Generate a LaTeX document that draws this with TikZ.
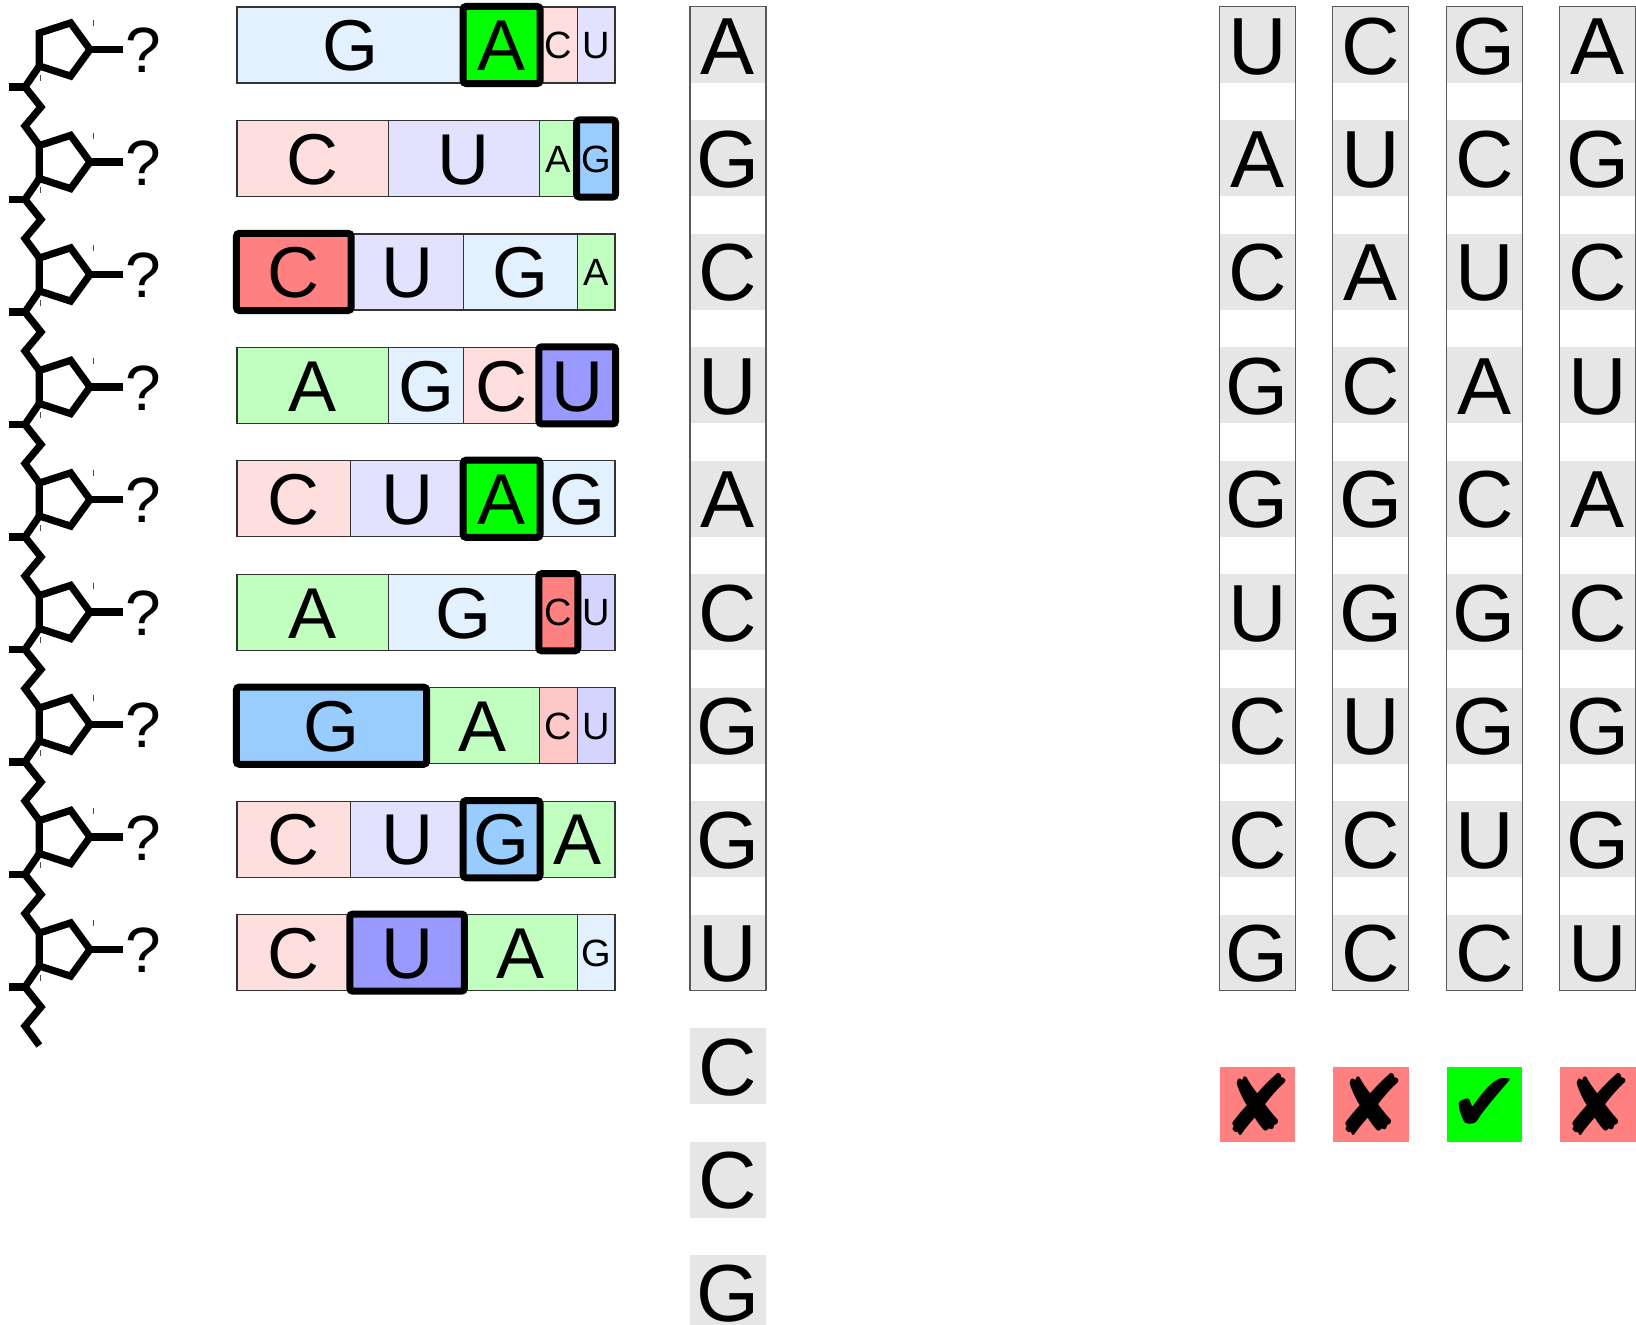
\documentclass[tikz,border=0pt]{standalone}
\usepackage{fontspec}
\setmainfont{Liberation Sans}
\newfontfamily\marksfont{DejaVu Sans}

% base colours, pale (p) and picked (h)
\definecolor{Ap}{HTML}{C0FFC0}\definecolor{Ah}{HTML}{00FF00}
\definecolor{Cp}{HTML}{FFDEDE}\definecolor{Ch}{HTML}{FF8080}\definecolor{Cq}{HTML}{FFC8C8}
\definecolor{Gp}{HTML}{E3F1FF}\definecolor{Gh}{HTML}{99CCFF}
\definecolor{Up}{HTML}{E2E2FF}\definecolor{Uh}{HTML}{9999FF}\definecolor{Uq}{HTML}{D4D4FF}
\definecolor{slotgrey}{HTML}{E6E6E6}
\definecolor{Xr}{HTML}{FF8080}\definecolor{Ok}{HTML}{00FF00}

\tikzset{
  glyph/.style={inner sep=0pt, text depth=0pt},
  seg/.style={glyph, draw=black!80, line width=1.2pt, minimum height=76pt},
  sz1/.style={font=\fontsize{38}{38}\selectfont, text height=27.2pt},
  sz2/.style={font=\fontsize{72}{72}\selectfont, text height=51.5pt},
  sz3/.style={sz2}, sz4/.style={sz2}, sz5/.style={sz2}, sz6/.style={sz2},
  picked/.style={draw=black, line width=7pt, rounded corners=3pt},
  slot/.style={glyph, fill=slotgrey, minimum width=75.6pt, minimum height=76pt,
    font=\fontsize{81}{81}\selectfont, text height=58pt},
  lane/.style={draw=black!65, line width=1.2pt},
  verdict/.style={glyph, minimum size=75.5pt, font=\marksfont\fontsize{84}{84}\selectfont},
  bone/.style={line width=7.2pt},
  tick/.style={line width=0.8pt, black!70},
}

\begin{document}
\begin{tikzpicture}[x=1pt, y=-1pt]
    \useasboundingbox (0,0) rectangle (1636,1325);

    % sugar-phosphate backbone with unknown bases
    \foreach \i in {1,...,9} {
        \pgfmathsetmacro\cy{49.5+112.5*(\i-1)}
        \coordinate (p\i) at (90,\cy);
        \draw[bone, shift={(62,\cy)}] (0:28) -- (72:28) -- (144:28) -- (216:28) -- (288:28) -- cycle;
        \draw[bone] (39.35,\cy+16.5) -- (25,\cy+37.5) -- (41,\cy+57.5) -- (25,\cy+76.5) -- (39.35,\cy+96);
        \draw[bone] (9,\cy+37.5) -- (25,\cy+37.5);
        \draw[tick] (93.3,\cy-29.5) -- ++(0,6);
        \draw[tick] (40,\cy+25) -- ++(0,6);
        \node[glyph, font=\fontsize{64}{64}\selectfont, text height=46pt] (q\i) at (143,\cy) {?};
        \draw[bone] (p\i) -- ([xshift=-2pt]q\i.west);
    }

    % fragment bars, one unit = 37.8
    \foreach \r/\cells in {
        1/{0/6/G/Gp, 6/2/A/Ah, 8/1/C/Cp, 9/1/U/Up},
        2/{0/4/C/Cp, 4/4/U/Up, 8/1/A/Ap, 9/1/G/Gh},
        3/{0/3/C/Ch, 3/3/U/Up, 6/3/G/Gp, 9/1/A/Ap},
        4/{0/4/A/Ap, 4/2/G/Gp, 6/2/C/Cp, 8/2/U/Uh},
        5/{0/3/C/Cp, 3/3/U/Up, 6/2/A/Ah, 8/2/G/Gp},
        6/{0/4/A/Ap, 4/4/G/Gp, 8/1/C/Ch, 9/1/U/Uq},
        7/{0/5/G/Gh, 5/3/A/Ap, 8/1/C/Cq, 9/1/U/Uq},
        8/{0/3/C/Cp, 3/3/U/Up, 6/2/G/Gh, 8/2/A/Ap},
        9/{0/3/C/Cp, 3/3/U/Uh, 6/3/A/Ap, 9/1/G/Gp}} {
        \foreach \s/\w/\l/\c [count=\k] in \cells
            \node[seg, sz\w, fill=\c, minimum width=\w*37.8pt] (b\r-\k)
                at ({237+37.8*(\s+\w/2)}, {45+113.45*(\r-1)}) {\l};
    }
    \foreach \r/\k in {1/2, 2/4, 3/1, 4/4, 5/3, 6/3, 7/1, 8/3, 9/2}
        \draw[picked] (b\r-\k.north west) rectangle (b\r-\k.south east);

    % read sequence
    \foreach \l [count=\i] in {A,G,C,U,A,C,G,G,U,C,C,G}
        \node[slot] (m\i) at (728, {45+113.45*(\i-1)}) {\l};
    \draw[lane] (m1.north west) rectangle (m9.south east);

    % candidate frames
    \foreach \seq [count=\j] in {{U,A,C,G,G,U,C,C,G}, {C,U,A,C,G,G,U,C,C},
                                 {G,C,U,A,C,G,G,U,C}, {A,G,C,U,A,C,G,G,U}} {
        \foreach \l [count=\i] in \seq
            \node[slot] (k\j-\i) at ({1257.3+113.5*(\j-1)}, {45+113.45*(\i-1)}) {\l};
        \draw[lane] (k\j-1.north west) rectangle (k\j-9.south east);
    }

    \foreach \f/\g [count=\j] in {Xr/✘, Xr/✘, Ok/✔, Xr/✘}
        \node[verdict, fill=\f] (v\j) at ({1257.3+113.5*(\j-1)}, 1104.5) {\g};
\end{tikzpicture}
\end{document}
